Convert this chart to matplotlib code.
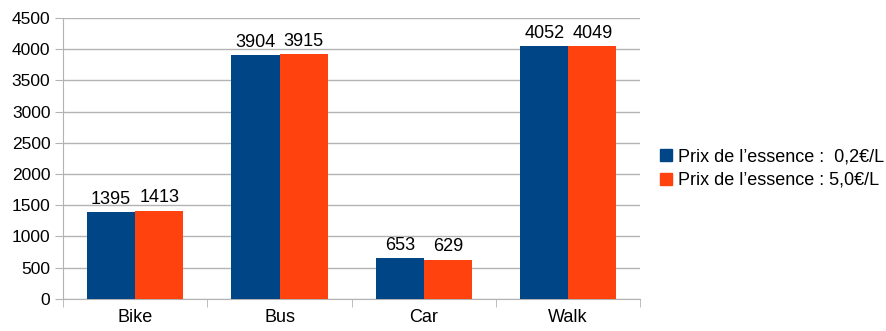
import numpy as np
import matplotlib.pyplot as plt
from matplotlib.patches import Patch

plt.rcParams['font.family'] = ['Liberation Sans', 'DejaVu Sans']

categories = ['Bike', 'Bus', 'Car', 'Walk']
prix_02 = [1395, 3904, 653, 4052]
prix_50 = [1413, 3915, 629, 4049]
labels = ['Prix de l\u2019essence :  0,2\u20ac/L', 'Prix de l\u2019essence : 5,0\u20ac/L']
colors = ['#004586', '#ff420e']

fig = plt.figure(figsize=(8.87, 3.31), dpi=100)
ax = fig.add_axes([0.071, 0.097, 0.651, 0.849])

x = np.arange(len(categories))
w = 0.333
b1 = ax.bar(x - w/2, prix_02, w, color=colors[0], zorder=3)
b2 = ax.bar(x + w/2, prix_50, w, color=colors[1], zorder=3)
ax.bar_label(b1, padding=3, fontsize=13)
ax.bar_label(b2, padding=3, fontsize=13)

ax.set_xlim(-0.5, len(categories) - 0.5)
ax.set_ylim(0, 4500)
ax.set_yticks(np.arange(0, 4501, 500))
ax.yaxis.grid(True, color='#b3b3b3', linewidth=1)
ax.set_axisbelow(True)
ax.set_xticks(x)
ax.set_xticklabels(categories)
ax.set_xticks(np.arange(-0.5, len(categories)), minor=True)
ax.tick_params(axis='x', which='major', length=0, pad=7, labelsize=13)
ax.tick_params(axis='x', which='minor', length=6, color='#b3b3b3')
ax.tick_params(axis='y', length=6, color='#b3b3b3', labelsize=12.5, pad=3)
for s in ['top', 'right']:
    ax.spines[s].set_visible(False)
for s in ['left', 'bottom']:
    ax.spines[s].set_color('#b3b3b3')

handles = [Patch(color=c) for c in colors]
fig.legend(handles, labels, loc='center left', bbox_to_anchor=(0.726, 0.49),
           frameon=False, fontsize=13, handlelength=0.65, handleheight=0.65,
           handletextpad=0.35, labelspacing=0.35)

fig.savefig('out.png', dpi=100)
